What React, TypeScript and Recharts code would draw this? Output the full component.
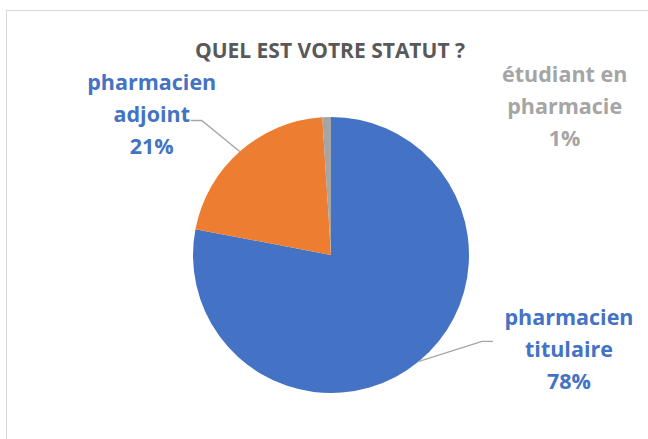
import { PieChart, Pie, Cell } from "recharts"

const categories = ["pharmacien titulaire", "pharmacien adjoint", "étudiant en pharmacie"]
const shares = [78, 21, 1]
const labelLines = [
  ["pharmacien", "titulaire"],
  ["pharmacien", "adjoint"],
  ["étudiant en", "pharmacie"],
]

const COLORS = ["#4472C4", "#ED7D31", "#A5A5A5"]
const LABEL_COLORS = ["#4472C4", "#4472C4", "#A5A5A5"]
// label block centre offsets from the slice edge point, plus leader elbow
const LABEL_OFFSETS = [
  { dx: 150, dy: -13, elbow: { dx: 63, dy: -20 }, end: 74, leader: true },
  { dx: -88, dy: -38, elbow: { dx: -38, dy: -31 }, end: -49, leader: true },
  { dx: 238, dy: -12, elbow: { dx: 0, dy: 0 }, end: 0, leader: false },
]

const data = categories.map((name, i) => ({ name, value: shares[i] }))

const FONT = "'Open Sans', 'Noto Sans', sans-serif"
const RAD = Math.PI / 180

function renderLabel(props: any) {
  const { cx, cy, midAngle, outerRadius, index } = props
  const ex = cx + outerRadius * Math.cos(-midAngle * RAD)
  const ey = cy + outerRadius * Math.sin(-midAngle * RAD)
  const o = LABEL_OFFSETS[index]
  const lx = ex + o.dx
  const ly = ey + o.dy
  const lines = [...labelLines[index], `${shares[index]}%`]
  const lh = 32
  return (
    <g key={`lbl-${index}`}>
      {o.leader && (
        <polyline
          points={`${ex},${ey} ${ex + o.elbow.dx},${ey + o.elbow.dy} ${ex + o.end},${ey + o.elbow.dy}`}
          fill="none"
          stroke="#A6A6A6"
          strokeWidth={1.4}
        />
      )}
      {lines.map((t, k) => (
        <text
          key={k}
          x={lx}
          y={ly + (k - 1) * lh}
          textAnchor="middle"
          dominantBaseline="central"
          fill={LABEL_COLORS[index]}
          fontFamily={FONT}
          fontWeight={700}
          fontSize={21.5}
        >
          {t}
        </text>
      ))}
    </g>
  )
}

export default function App() {
  return (
    <div style={{ position: "fixed", left: 0, top: 0, width: 648, height: 439, background: "#fff", overflow: "hidden" }}>
      <div
        style={{
          position: "absolute",
          left: 6,
          top: 10,
          width: 660,
          height: 450,
          border: "1.5px solid #D9D9D9",
        }}
      />
      <PieChart
        width={648}
        height={439}
        margin={{ top: 0, right: 0, bottom: 0, left: 0 }}
        style={{ position: "absolute", left: 0, top: 0 }}
      >
        <text
          x={330}
          y={50}
          textAnchor="middle"
          dominantBaseline="central"
          fill="#595959"
          fontFamily={FONT}
          fontWeight={700}
          fontSize={21}
        >
          QUEL EST VOTRE STATUT ?
        </text>
        <Pie
          data={data}
          dataKey="value"
          nameKey="name"
          cx={331}
          cy={255}
          outerRadius={138}
          startAngle={90}
          endAngle={-270}
          stroke="none"
          label={renderLabel}
          labelLine={false}
          isAnimationActive={false}
        >
          {data.map((d, i) => (
            <Cell key={d.name} fill={COLORS[i]} />
          ))}
        </Pie>
      </PieChart>
    </div>
  )
}
